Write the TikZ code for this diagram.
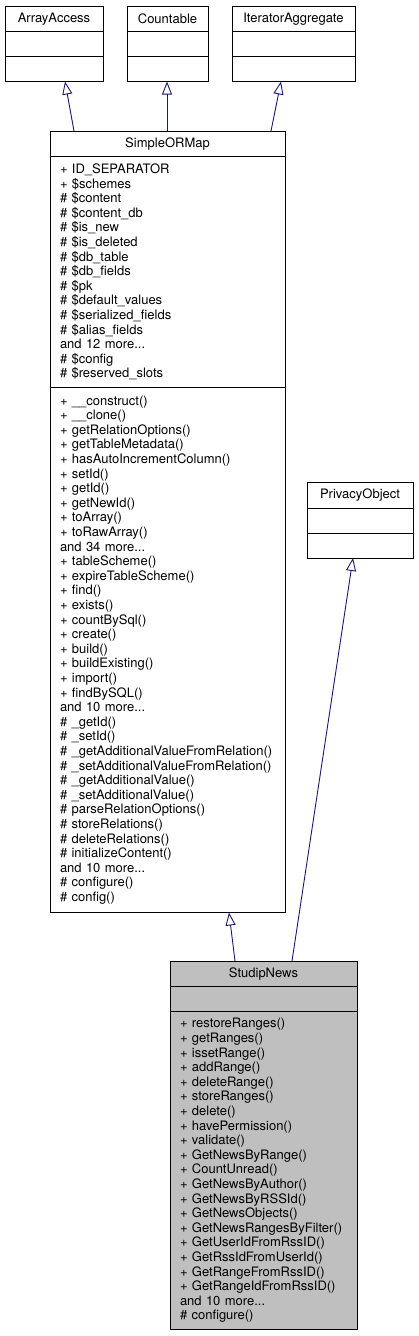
\documentclass[tikz,border=0pt]{standalone}
\usepackage{fontspec}
\setmainfont{TeX Gyre Heros}
\usetikzlibrary{positioning,arrows.meta}
\definecolor{edgeblue}{RGB}{25,25,112}
\definecolor{mainfill}{gray}{0.75}
\hyphenpenalty=10000

\begin{document}
\begin{tikzpicture}[x=1pt, y=-1pt,
    cls/.style={draw, rectangle, line width=0.9pt, inner sep=0pt, outer sep=0pt, font=\fontsize{13}{14.6}\selectfont},
    clsname/.style={cls, minimum height=25.5pt},
    emptypart/.style={cls, minimum height=25pt},
    members/.style={cls, align=left, inner xsep=10pt},
    inherit/.style={-{Triangle[open, length=13pt, width=10pt]}, draw=edgeblue, line width=0.9pt}
]
\useasboundingbox (0,0) rectangle (418,1336);

% interfaces
\node[clsname, minimum width=98, anchor=north west] (aaT) at (5,6) {ArrayAccess};
\node[emptypart, minimum width=98, below=0pt of aaT] (aaA) {};
\node[emptypart, minimum width=98, below=0pt of aaA] (aaM) {};

\node[clsname, minimum width=81, anchor=north west] (ctT) at (127,6) {Countable};
\node[emptypart, minimum width=81, below=0pt of ctT] (ctA) {};
\node[emptypart, minimum width=81, below=0pt of ctA] (ctM) {};

\node[clsname, minimum width=123, anchor=north west] (itT) at (232,6) {IteratorAggregate};
\node[emptypart, minimum width=123, below=0pt of itT] (itA) {};
\node[emptypart, minimum width=123, below=0pt of itA] (itM) {};

% SimpleORMap
\node[clsname, minimum width=235, anchor=north west] (smT) at (50,131) {SimpleORMap};
\node[members, text width=215, minimum height=231, below=0pt of smT] (smA) {%
+~ID\_SEPARATOR\\
+~\$schemes\\
\#~\$content\\
\#~\$content\_db\\
\#~\$is\_new\\
\#~\$is\_deleted\\
\#~\$db\_table\\
\#~\$db\_fields\\
\#~\$pk\\
\#~\$default\_values\\
\#~\$serialized\_fields\\
\#~\$alias\_fields\\
and 12 more...\\
\#~\$config\\
\#~\$reserved\_slots};
\node[members, text width=215, minimum height=525, below=0pt of smA] (smM) {%
+~\_\_construct()\\
+~\_\_clone()\\
+~getRelationOptions()\\
+~getTableMetadata()\\
+~hasAutoIncrementColumn()\\
+~setId()\\
+~getId()\\
+~getNewId()\\
+~toArray()\\
+~toRawArray()\\
and 34 more...\\
+~tableScheme()\\
+~expireTableScheme()\\
+~find()\\
+~exists()\\
+~countBySql()\\
+~create()\\
+~build()\\
+~buildExisting()\\
+~import()\\
+~findBySQL()\\
and 10 more...\\
\#~\_getId()\\
\#~\_setId()\\
\#~\_getAdditionalValueFromRelation()\\
\#~\_setAdditionalValueFromRelation()\\
\#~\_getAdditionalValue()\\
\#~\_setAdditionalValue()\\
\#~parseRelationOptions()\\
\#~storeRelations()\\
\#~deleteRelations()\\
\#~initializeContent()\\
and 10 more...\\
\#~configure()\\
\#~config()};

% PrivacyObject
\node[clsname, minimum width=106, minimum height=26, anchor=north west] (poT) at (307,482) {PrivacyObject};
\node[emptypart, minimum width=106, below=0pt of poT] (poA) {};
\node[emptypart, minimum width=106, below=0pt of poA] (poM) {};

% StudipNews
\node[clsname, fill=mainfill, minimum width=187, anchor=north west] (snT) at (170,961) {StudipNews};
\node[emptypart, fill=mainfill, minimum width=187, below=0pt of snT] (snA) {};
\node[members, fill=mainfill, text width=167, minimum height=318, below=0pt of snA] (snM) {%
+~restoreRanges()\\
+~getRanges()\\
+~issetRange()\\
+~addRange()\\
+~deleteRange()\\
+~storeRanges()\\
+~delete()\\
+~havePermission()\\
+~validate()\\
+~GetNewsByRange()\\
+~CountUnread()\\
+~GetNewsByAuthor()\\
+~GetNewsByRSSId()\\
+~GetNewsObjects()\\
+~GetNewsRangesByFilter()\\
+~GetUserIdFromRssID()\\
+~GetRssIdFromUserId()\\
+~GetRangeFromRssID()\\
+~GetRangeIdFromRssID()\\
and 10 more...\\
\#~configure()};

\draw[inherit] ([xshift=24]smT.north west) -- ([xshift=60]aaM.south west);
\draw[inherit] ([xshift=117]smT.north west) -- ([xshift=40]ctM.south west);
\draw[inherit] ([xshift=221]smT.north west) -- ([xshift=49]itM.south west);
\draw[inherit] ([xshift=65]snT.north west) -- ([xshift=179]smM.south west);
\draw[inherit] ([xshift=122]snT.north west) -- ([xshift=46]poM.south west);
\end{tikzpicture}
\end{document}
